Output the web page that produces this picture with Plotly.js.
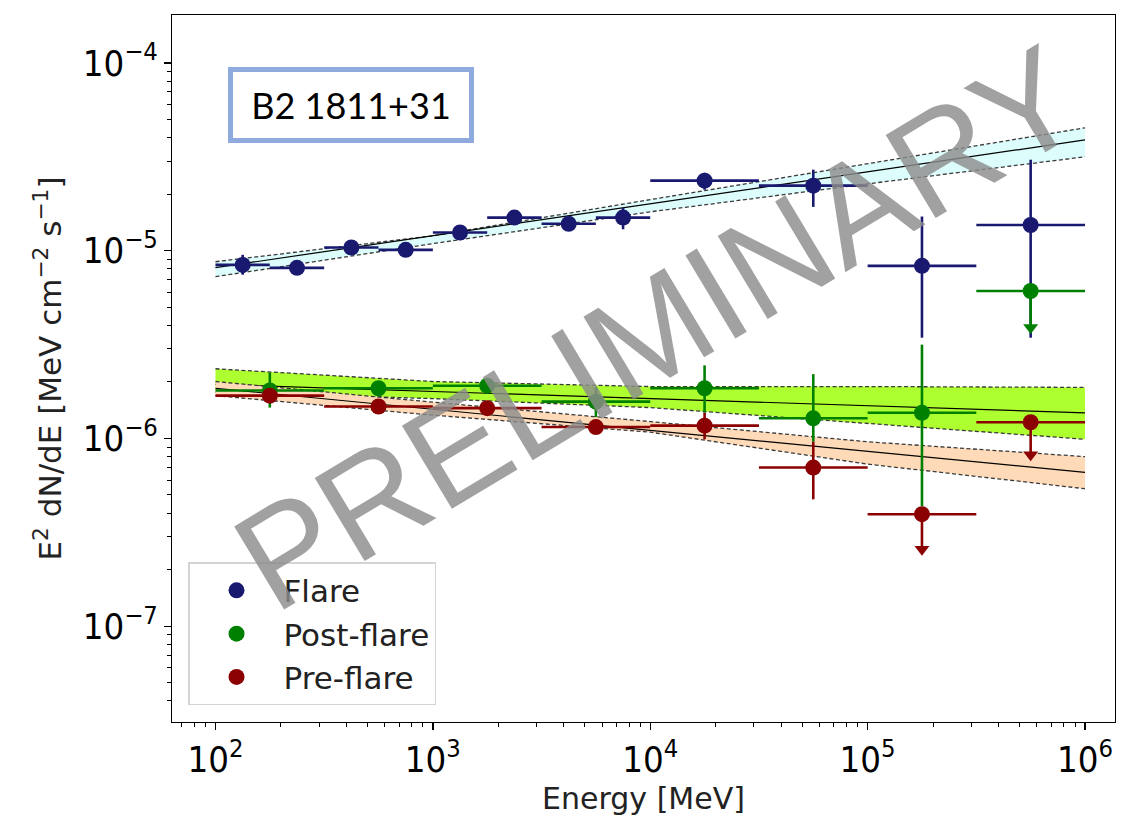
<!DOCTYPE html>
<html><head><meta charset="utf-8">
<script src="https://cdn.plot.ly/plotly-3.0.1.min.js"></script>
<style>body{margin:0;background:#fff}#chart{width:1141px;height:817px}</style>
</head><body><div id="chart"></div>
<script>
// ---------- Flare (quarter-decade + half-decade bins) ----------
const flareE   = [133.4, 237.1, 421.7, 749.9, 1333.5, 2371.4, 4217, 7499, 17783, 56234, 177828, 562341];
const flareELo = [100, 177.8, 316.2, 562.3, 1000, 1778, 3162, 5623, 10000, 31623, 100000, 316228];
const flareEHi = [177.8, 316.2, 562.3, 1000, 1778, 3162, 5623, 10000, 31623, 100000, 316228, 1000000];
const flareY   = [8.4e-6, 8.1e-6, 1.04e-5, 1.01e-5, 1.25e-5, 1.5e-5, 1.39e-5, 1.5e-5, 2.36e-5, 2.22e-5, 8.3e-6, 1.37e-5];
const flareYHi = [9.5e-6, 8.6e-6, 1.1e-5, 1.07e-5, 1.33e-5, 1.6e-5, 1.5e-5, 1.69e-5, 2.6e-5, 2.7e-5, 1.52e-5, 3.05e-5];
const flareYLo = [7.45e-6, 7.6e-6, 9.8e-6, 9.5e-6, 1.17e-5, 1.4e-5, 1.28e-5, 1.3e-5, 2.11e-5, 1.71e-5, 3.44e-6, 3.44e-6];
const flareUL  = [0,0,0,0,0,0,0,0,0,0,0,0];

// ---------- Post-flare / Pre-flare (half-decade bins) ----------
const binE   = [177.8, 562.3, 1778, 5623, 17783, 56234, 177828, 562341];
const binELo = [100, 316.2, 1000, 3162, 10000, 31623, 100000, 316228];
const binEHi = [316.2, 1000, 3162, 10000, 31623, 100000, 316228, 1000000];

const postY   = [1.8e-6, 1.85e-6, 1.91e-6, 1.57e-6, 1.85e-6, 1.28e-6, 1.37e-6, 6.1e-6];
const postYHi = [2.24e-6, 2.0e-6, 2.06e-6, 1.87e-6, 2.45e-6, 2.2e-6, 3.16e-6, 6.1e-6];
const postYLo = [1.46e-6, 1.7e-6, 1.76e-6, 1.3e-6, 1.37e-6, 9.6e-7, 4.35e-7, 3.9e-6];
const postUL  = [0,0,0,0,0,0,0,1];

const preY   = [1.69e-6, 1.48e-6, 1.45e-6, 1.15e-6, 1.17e-6, 7.0e-7, 3.95e-7, 1.22e-6];
const preYHi = [1.8e-6, 1.57e-6, 1.54e-6, 1.24e-6, 1.37e-6, 9.6e-7, 3.95e-7, 1.22e-6];
const preYLo = [1.59e-6, 1.39e-6, 1.36e-6, 1.06e-6, 9.9e-7, 4.74e-7, 2.57e-7, 8.2e-7];
const preUL  = [0,0,0,0,0,0,1,1];

// ---------- Model fits and butterflies ----------
const fitE  = [100, 1000000];
const bandE = [100, 1000, 10000, 100000, 1000000];
const flareFit    = [8.12e-6, 3.89e-5];
const flareBandHi = [8.73e-6, 1.2e-5, 1.87e-5, 2.9e-5, 4.51e-5];
const flareBandLo = [7.27e-6, 1.09e-5, 1.61e-5, 2.27e-5, 3.16e-5];
const postFit     = [1.94e-6, 1.37e-6];
const postBandHi  = [2.35e-6, 2.01e-6, 1.89e-6, 1.89e-6, 1.87e-6];
const postBandLo  = [1.76e-6, 1.63e-6, 1.46e-6, 1.2e-6, 9.9e-7];
const preFit      = [1.85e-6, 6.6e-7];
const preBandHi   = [2.01e-6, 1.56e-6, 1.23e-6, 9.6e-7, 8.0e-7];
const preBandLo   = [1.69e-6, 1.33e-6, 1.08e-6, 7.3e-7, 5.4e-7];

const sourceName = 'B2 1811+31';
const watermark = 'PRELIMINARY';

const traces = [];
function band(lo, hi, fit, fillc) {
  const dashLine = {color: '#3a3a3a', width: 1.3, dash: '4px,2.5px'};
  traces.push({x: bandE, y: lo, mode: 'lines', line: dashLine, showlegend: false, hoverinfo: 'skip'});
  traces.push({x: bandE, y: hi, mode: 'lines', line: dashLine, fill: 'tonexty', fillcolor: fillc, showlegend: false, hoverinfo: 'skip'});
  traces.push({x: fitE, y: fit, mode: 'lines', line: {color: '#000', width: 1.2}, showlegend: false, hoverinfo: 'skip'});
}
band(flareBandLo, flareBandHi, flareFit, '#DDFCFC');
band(postBandLo, postBandHi, postFit, '#ADFF2F');
band(preBandLo, preBandHi, preFit, '#FFDAB9');

function series(name, E, ELo, EHi, Y, YHi, YLo, UL, color, rank) {
  traces.push({
    x: E, y: Y, name: name, mode: 'markers', legendrank: rank,
    marker: {color: color, size: 16, symbol: 'circle'},
    error_x: {type: 'data', symmetric: false, array: E.map((e, i) => EHi[i] - e), arrayminus: E.map((e, i) => e - ELo[i]), color: color, thickness: 2.6, width: 0},
    error_y: {type: 'data', symmetric: false, array: Y.map((y, i) => YHi[i] - y), arrayminus: Y.map((y, i) => y - YLo[i]), color: color, thickness: 2.6, width: 0},
    hoverinfo: 'x+y'
  });
  const ux = [], uy = [];
  UL.forEach((u, i) => { if (u) { ux.push(E[i]); uy.push(YLo[i]); } });
  if (ux.length) {
    traces.push({x: ux, y: uy, mode: 'markers', showlegend: false, hoverinfo: 'skip',
      marker: {color: color, size: 13, symbol: 'triangle-down'}});
  }
}
series('Flare', flareE, flareELo, flareEHi, flareY, flareYHi, flareYLo, flareUL, '#191970', 1);
series('Post-flare', binE, binELo, binEHi, postY, postYHi, postYLo, postUL, '#008000', 2);
series('Pre-flare', binE, binELo, binEHi, preY, preYHi, preYLo, preUL, '#8B0000', 3);

const axisCommon = {
  type: 'log', showline: true, linecolor: '#000', linewidth: 1.3, mirror: true,
  ticks: 'outside', ticklen: 7, tickwidth: 1.3, tickcolor: '#000',
  showgrid: false, zeroline: false, dtick: 1, exponentformat: 'power',
  minor: {ticks: 'outside', ticklen: 4, tickwidth: 1, tickcolor: '#000', showgrid: false},
  tickfont: {family: 'DejaVu Sans Condensed, DejaVu Sans', size: 29, color: '#000'}
};

const layout = {
  width: 1141, height: 817,
  margin: {l: 172, r: 26, t: 15, b: 95},
  paper_bgcolor: '#fff', plot_bgcolor: '#fff',
  showlegend: true,
  xaxis: Object.assign({}, axisCommon, {
    range: [1.8, 6.138],
    title: {text: 'Energy [MeV]', font: {family: 'DejaVu Sans', size: 30, color: '#222'}, standoff: 6}
  }),
  yaxis: Object.assign({}, axisCommon, {
    range: [-7.51, -3.745],
    title: {text: 'E<sup>2</sup> dN/dE [MeV cm<sup>\u22122</sup> s<sup>\u22121</sup>]', font: {family: 'DejaVu Sans', size: 31, color: '#222'}, standoff: 12}
  }),
  legend: {
    x: 0.017, y: 0.226, xanchor: 'left', yanchor: 'top',
    bgcolor: 'rgba(255,255,255,0)', bordercolor: '#d4d4d4', borderwidth: 1.5,
    font: {family: 'DejaVu Sans', size: 31, color: '#222'},
    itemwidth: 84, traceorder: 'normal'
  },
  annotations: [
    {xref: 'paper', yref: 'paper', x: 0.1903, y: 0.8727, xanchor: 'center', yanchor: 'middle',
     text: sourceName, showarrow: false, width: 236, height: 66, borderpad: 0,
     bordercolor: '#8FAADC', borderwidth: 5, bgcolor: '#fff',
     font: {family: 'Lato, Open Sans, sans-serif', size: 36, color: '#000'}},
    {xref: 'paper', yref: 'paper', x: 0.515, y: 0.557, xanchor: 'center', yanchor: 'middle',
     text: watermark, showarrow: false, textangle: -31,
     font: {family: 'Liberation Sans Narrow, Liberation Sans, sans-serif', size: 141, color: 'rgba(140,140,140,0.82)'}}
  ]
};

Plotly.newPlot('chart', traces, layout, {displayModeBar: false, staticPlot: true});
</script>
</body></html>
